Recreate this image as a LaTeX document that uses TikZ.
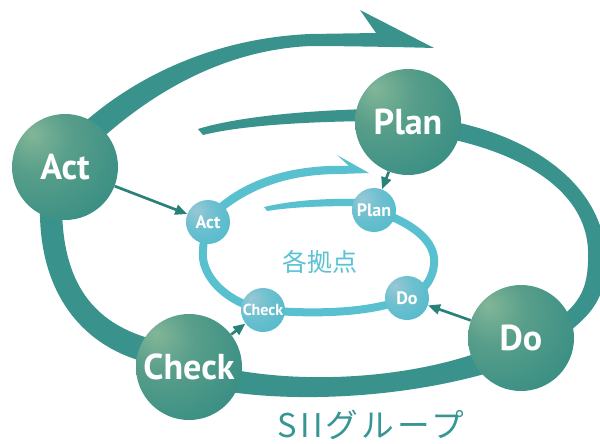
\documentclass[tikz,border=0pt]{standalone}
\usepackage{fontspec}
\usetikzlibrary{arrows.meta}

\newfontfamily\ptb{PT Sans}
\newfontfamily\jpf{Noto Sans CJK JP}

\definecolor{outerc}{RGB}{58,146,140}
\definecolor{innerc}{RGB}{88,192,206}
\definecolor{linkc}{RGB}{40,130,122}
\definecolor{basec}{RGB}{90,195,210}
\definecolor{groupc}{RGB}{55,150,148}
\definecolor{bighi}{RGB}{130,182,152}
\definecolor{bigmid}{RGB}{88,158,138}
\definecolor{bigdark}{RGB}{45,137,129}
\definecolor{smhi}{RGB}{152,200,212}
\definecolor{smmid}{RGB}{110,192,208}
\definecolor{smdark}{RGB}{72,185,200}

\pgfdeclareradialshading{bigball}{\pgfpoint{-16bp}{16bp}}{color(0bp)=(bighi); color(16bp)=(bigmid); color(48bp)=(bigdark); color(90bp)=(bigdark)}
\pgfdeclareradialshading{smball}{\pgfpoint{-14bp}{14bp}}{color(0bp)=(smhi); color(18bp)=(smmid); color(48bp)=(smdark); color(90bp)=(smdark)}

\begin{document}
\begin{tikzpicture}[x=0.75pt, y=-0.75pt,
    bigc/.style={circle, inner sep=0pt, minimum size=79.5pt, shading=bigball, text=white, font=\ptb\bfseries\fontsize{27}{27}\selectfont},
    smc/.style={circle, inner sep=0pt, minimum size=33pt, shading=smball, text=white, font=\ptb\bfseries\fontsize{13.5}{13.5}\selectfont},
    link/.style={draw=linkc, line width=2pt, -{Triangle[length=9pt,width=7.5pt]}}]
    \clip (0,0) rectangle (600,443);

    % outer spiral (SII group)
    \fill[outerc] (198,129) .. controls (230,119) and (290,111) .. (370,109) -- (370,121) .. controls (290,122) and (235,127) .. (203,135) -- cycle;
    \fill[outerc] (455,122) .. controls (540,140) and (605,190) .. (606,260) .. controls (606,300) and (590,315) .. (565,335)
        -- (560,318) .. controls (582,300) and (589,285) .. (588,250) .. controls (586,200) and (540,160) .. (455,140) -- cycle;
    \fill[outerc] (230,392) .. controls (300,402) and (400,398) .. (488,373) -- (480,352) .. controls (400,380) and (300,383) .. (230,369) -- cycle;
    \fill[outerc] (40,205) .. controls (38,290) and (80,345) .. (145,362) -- (148,338) .. controls (95,322) and (62,285) .. (62,205) -- cycle;
    \fill[outerc] (80,126) .. controls (140,72) and (220,38) .. (310,34) -- (376,33) -- (360,10) -- (434,48)
        .. controls (400,47) and (340,46) .. (310,46) .. controls (228,50) and (158,88) .. (100,140) -- cycle;

    % inner spiral (each site)
    \fill[innerc] (264,207) .. controls (290,201) and (320,198) .. (365,199) -- (365,206) .. controls (320,206) and (292,207) .. (267,211) -- cycle;
    \draw[innerc, line width=6pt] (374,210) .. controls (410,222) and (437,240) .. (434,265) .. controls (432,282) and (420,295) .. (407,298)
        .. controls (380,310) and (330,316) .. (263,310) .. controls (225,302) and (200,275) .. (203,250) .. controls (204,235) and (206,228) .. (208,222);
    \fill[innerc] (212,210) .. controls (245,178) and (295,164) .. (349,166) -- (337,155) -- (369,173) -- (340,174)
        .. controls (295,174) and (255,185) .. (222,212) -- cycle;

    \node[bigc] (Act) at (65,167) {Act};
    \node[bigc] (Plan) at (408,122) {Plan};
    \node[bigc] (Do) at (521,338) {Do};
    \node[bigc] (Check) at (189,367) {Check};

    \node[smc] (act) at (208,222) {Act};
    \node[smc] (plan) at (374,210) {Plan};
    \node[smc] (do) at (407,298) {Do};
    \node[smc, font=\ptb\bfseries\fontsize{12}{12}\selectfont] (check) at (263,310) {Check};

    \draw[link] (Act) -- (act);
    \draw[link] (Plan) -- (plan);
    \draw[link] (Do) -- (do);
    \draw[link] (Check) -- (check);

    \node[text=basec, font=\jpf\fontsize{18.75}{18.75}\selectfont] (base) at (320,262) {各拠点};
    \node[text=groupc, font=\jpf\fontsize{24.5}{24.5}\selectfont\addfontfeature{LetterSpace=10}] (group) at (371,425) {SIIグループ};
\end{tikzpicture}
\end{document}
